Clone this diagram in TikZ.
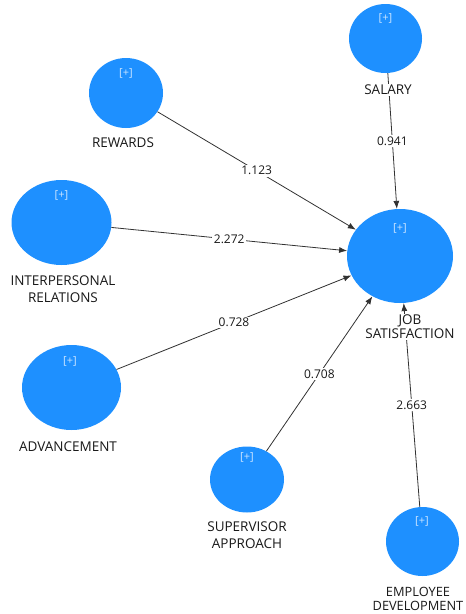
\documentclass[tikz,border=0pt]{standalone}
\usepackage{fontspec}
\setmainfont{Open Sans}
\usetikzlibrary{shapes.geometric,arrows.meta}
\definecolor{lvblue}{RGB}{30,144,255}
\definecolor{plus}{RGB}{205,230,255}
\definecolor{edgec}{RGB}{50,50,50}
\definecolor{txtc}{RGB}{25,25,25}
\begin{document}
\begin{tikzpicture}[x=1pt,y=-1pt,
  lv/.style={ellipse,fill=lvblue,draw=none,inner sep=0pt},
  lbl/.style={font=\fontsize{13.5}{15}\selectfont,text=txtc,fill=white,inner sep=1pt,align=center},
  plusmark/.style={font=\fontsize{11}{13}\selectfont,text=plus,inner sep=0pt},
  path/.style={draw=edgec,line width=0.8pt,-{Latex[length=8pt,width=6pt]}},
  coef/.style={font=\fontsize{12}{13}\selectfont,text=txtc,fill=white,inner sep=1.5pt,pos=0.5}]
\useasboundingbox (0,0) rectangle (466,614);
% latent variables
\node[lv,minimum width=73pt,minimum height=69pt] (sal) at (385.5,38.5) {};
\node[lv,minimum width=74pt,minimum height=70pt] (rew) at (126,93) {};
\node[lv,minimum width=106pt,minimum height=94pt] (job) at (400,256) {};
\node[lv,minimum width=100pt,minimum height=85pt] (ip) at (61.5,222.5) {};
\node[lv,minimum width=99pt,minimum height=85pt] (adv) at (71.5,387.5) {};
\node[lv,minimum width=74pt,minimum height=66pt] (sup) at (247,479.5) {};
\node[lv,minimum width=73pt,minimum height=69pt] (emp) at (422.5,541.5) {};
% [+] marks
\node[plusmark] (salP) at (385.5,18) {[+]};
\node[plusmark] (rewP) at (126,73) {[+]};
\node[plusmark] (jobP) at (400,228) {[+]};
\node[plusmark] (ipP) at (61.5,195) {[+]};
\node[plusmark] (advP) at (70,361) {[+]};
\node[plusmark] (supP) at (247,457) {[+]};
\node[plusmark] (empP) at (422,521) {[+]};
% paths
\draw[path] (sal) -- node[coef] (c1) {0.941} (job);
\draw[path] (rew) -- node[coef] (c2) {1.123} (job);
\draw[path] (ip) -- node[coef] (c3) {2.272} (job);
\draw[path] (adv) -- node[coef] (c4) {0.728} (job);
\draw[path] (sup) -- node[coef] (c5) {0.708} (job);
\draw[path] (emp) -- node[coef] (c6) {2.663} (job);
% labels
\node[lbl] (salL) at (388,90) {SALARY};
\node[lbl] (rewL) at (123,143) {REWARDS};
\node[lbl,font=\fontsize{13.5}{14}\selectfont] (jobL) at (410,327) {JOB\\SATISFACTION};
\node[lbl,font=\fontsize{13.5}{16.5}\selectfont] (ipL) at (63,289) {INTERPERSONAL\\RELATIONS};
\node[lbl] (advL) at (68,447) {ADVANCEMENT};
\node[lbl,font=\fontsize{13.5}{16.5}\selectfont] (supL) at (247,535) {SUPERVISOR\\APPROACH};
\node[lbl,font=\fontsize{12.8}{14}\selectfont] (empL) at (418,598.5) {EMPLOYEE\\DEVELOPMENT};
\end{tikzpicture}
\end{document}
